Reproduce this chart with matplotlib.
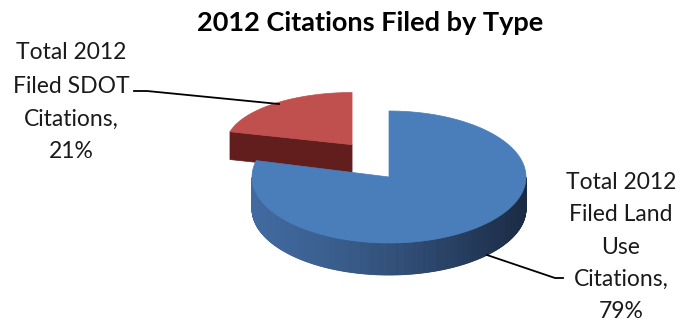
import numpy as np
import matplotlib
matplotlib.use("Agg")
import matplotlib.pyplot as plt
from matplotlib.patches import Polygon
from matplotlib.colors import to_rgb

# ---- data ----
title = "2012 Citations Filed by Type"
categories = ["Total 2012 Filed Land Use Citations", "Total 2012 Filed SDOT Citations"]
shares = [79, 21]
label_lines = [["Total 2012", "Filed Land", "Use", "Citations,", "79%"],
               ["Total 2012", "Filed SDOT", "Citations,", "21%"]]

# ---- styles ----
top_colors = ["#4a7ebb", "#c0504d"]
side_light = ["#416aa0", "#621e1d"]
side_dark = ["#1b2b44", "#581a19"]
explode = [0.0, 1.0]
scale = [(1.0, 1.0, 1.0), (0.92, 0.79, 0.87)]   # perspective (x, y, depth)

plt.rcParams['font.family'] = ['Lato', 'DejaVu Sans']

fig = plt.figure(figsize=(6.81, 3.22), dpi=100)
ax = fig.add_axes([0, 0, 1, 1])
ax.set_xlim(0, 681)
ax.set_ylim(322, 0)
ax.axis('off')

CX, CY = 389, 177
RX, RY, DEPTH = 137, 66, 32
EX, EY = 0.44, 0.62


def pt(c, rx, ry, a, dz=0.0):
    r = np.radians(a)
    return np.array([c[0] + rx * np.cos(r), c[1] - ry * np.sin(r) + dz])


def lerp(c1, c2, t):
    a, b = np.array(to_rgb(c1)), np.array(to_rgb(c2))
    return tuple(a + (b - a) * t)


total = float(sum(shares))
geo = []
start = 90.0
for i, v in enumerate(shares):
    a0 = start
    a1 = start - v / total * 360.0
    start = a1
    mid = np.radians((a0 + a1) / 2)
    c = (CX + explode[i] * EX * RX * np.cos(mid), CY - explode[i] * EY * RY * np.sin(mid))
    sx, sy, sd = scale[i]
    geo.append(dict(a0=a0, a1=a1, c=c, rx=RX * sx, ry=RY * sy, d=DEPTH * sd, i=i))

# draw back-to-front: exploded (rear) slice first
for g in sorted(geo, key=lambda g: g['c'][1]):
    i, a0, a1, c, rx, ry, d = g['i'], g['a0'], g['a1'], g['c'], g['rx'], g['ry'], g['d']
    # radial cut faces
    for ang, nrm in ((a0, a0 + 90), (a1, a1 - 90)):
        if np.sin(np.radians(nrm)) < -0.2:
            rim_t = pt(c, rx, ry, ang)
            quad = [rim_t, np.array(c), np.array(c) + [0, d], rim_t + [0, d]]
            ax.add_patch(Polygon(quad, closed=True, fc=side_light[i], ec=side_light[i], lw=0.5, zorder=2))
    # front rim
    angs = np.linspace(a1, a0, 600)
    front = np.sin(np.radians(angs)) < 0
    for k in range(len(angs) - 1):
        if front[k] and front[k + 1]:
            p1, p2 = pt(c, rx, ry, angs[k]), pt(c, rx, ry, angs[k + 1])
            t = (1 + np.cos(np.radians(angs[k]))) / 2
            col = lerp(side_light[i], side_dark[i], t ** 1.3)
            ax.add_patch(Polygon([p1, p2, p2 + [0, d], p1 + [0, d]], closed=True,
                                 fc=col, ec=col, lw=0.6, zorder=2))
    # top face
    arc = [pt(c, rx, ry, a) for a in np.linspace(a1, a0, 400)]
    ax.add_patch(Polygon([np.array(c)] + arc, closed=True, fc=top_colors[i],
                         ec=top_colors[i], lw=0.5, zorder=3))

# ---- title ----
ax.text(370, 23, title, ha='center', va='center', fontsize=19.5, fontweight='bold', color='black')

# ---- labels ----
fs = 16.5
right_y = [182, 214, 247, 279, 312]
for s, y in zip(label_lines[0], right_y):
    ax.text(621, y, s, ha='center', va='center', fontsize=fs, color='#1a1a1a')
left_y = [52, 86, 119, 151]
for s, y in zip(label_lines[1], left_y):
    ax.text(71, y, s, ha='center', va='center', fontsize=fs, color='#1a1a1a')

# ---- leader lines ----
ax.plot([134, 147, 279], [91, 91, 104], color='black', lw=1.3, zorder=4)
ax.plot([487, 555, 563], [255, 278, 278], color='black', lw=1.3, zorder=4)

fig.savefig("out.png", dpi=100)
